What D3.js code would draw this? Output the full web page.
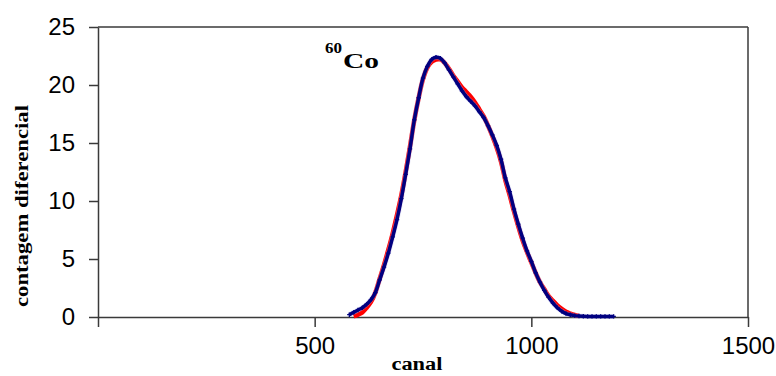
<!DOCTYPE html>
<html>
<head>
<meta charset="utf-8">
<script src="https://cdn.jsdelivr.net/npm/d3@7"></script>
<style>
  html, body { margin: 0; padding: 0; background: #fff; }
  svg { display: block; }
</style>
</head>
<body>
<svg id="chart" width="776" height="376"></svg>
<script>
// ---- data ----
const xTicks = [500, 1000, 1500];
const yTicks = [0, 5, 10, 15, 20, 25];

const blueChannels = [580,590,600,610,620,630,640,650,660,670,680,690,700,710,720,730,740,750,760,770,780,790,800,810,820,830,840,850,860,870,880,890,900,910,920,930,940,950,960,970,980,990,1000,1010,1020,1030,1040,1050,1060,1070,1080,1090,1100,1110,1120,1130,1140,1150,1160,1170,1180,1190];
const blueCounts = [0.2,0.4,0.6,0.8,1.1,1.5,2.1,3.2,4.3,5.5,6.9,8.4,10.2,12.3,14.5,17.0,18.9,20.6,21.6,22.2,22.4,22.3,21.9,21.3,20.7,20.1,19.5,19.0,18.6,18.2,17.7,17.2,16.5,15.7,14.8,13.6,12.0,10.8,9.3,8.0,6.8,5.7,4.8,3.8,3.0,2.3,1.7,1.2,0.8,0.5,0.3,0.2,0.12,0.08,0.06,0.05,0.05,0.05,0.05,0.05,0.05,0.05];

const redChannels = [590,600,610,620,630,640,650,660,670,680,690,700,710,720,730,740,750,760,770,780,790,800,810,820,830,840,850,860,870,880,890,900,910,920,930,940,950,960,970,980,990,1000,1010,1020,1030,1040,1050,1060,1070,1080,1090,1100,1110];
const redCounts = [0.05,0.2,0.4,0.8,1.3,2.1,3.3,4.5,5.8,7.2,8.8,10.5,12.5,14.7,17.0,18.9,20.5,21.5,22.0,22.2,22.2,21.9,21.4,20.8,20.3,19.8,19.4,19.0,18.5,17.9,17.3,16.5,15.6,14.6,13.4,11.8,10.5,9.1,7.8,6.6,5.6,4.7,3.8,3.0,2.4,1.8,1.4,1.0,0.7,0.45,0.3,0.18,0.1];

// ---- layout ----
const svg = d3.select("#chart");
const x = d3.scaleLinear().domain([0, 1500]).range([98, 748]);
const y = d3.scaleLinear().domain([0, 25]).range([317, 27]);
const axisColor = "#3a3a3a";

// frame: top & right
svg.append("line").attr("x1", x(0)).attr("x2", x(1500)).attr("y1", y(25)).attr("y2", y(25))
  .attr("stroke", axisColor).attr("stroke-width", 1.5);
svg.append("line").attr("x1", x(1500)).attr("x2", x(1500)).attr("y1", y(25)).attr("y2", y(0))
  .attr("stroke", axisColor).attr("stroke-width", 1.5);

// x axis
const gx = svg.append("g").attr("transform", `translate(0,${y(0)})`)
  .call(d3.axisBottom(x).tickValues([0, ...xTicks]).tickSize(10).tickSizeOuter(0).tickPadding(10)
    .tickFormat(d => d === 0 ? "" : d));
// y axis
const gy = svg.append("g").attr("transform", `translate(${x(0)},0)`)
  .call(d3.axisLeft(y).tickValues(yTicks).tickSize(9).tickSizeOuter(0).tickPadding(14));

[gx, gy].forEach(g => {
  g.select(".domain").attr("stroke", axisColor).attr("stroke-width", 1.5);
  g.selectAll(".tick line").attr("stroke", axisColor).attr("stroke-width", 1.5);
  g.selectAll(".tick text").attr("fill", "#000")
    .style("font-family", "'Liberation Sans', Arial, sans-serif").style("font-size", "24px");
});

// series
const redData = redChannels.map((c, i) => [c, redCounts[i]]);
const blueData = blueChannels.map((c, i) => [c, blueCounts[i]]);
const line = d3.line().x(d => x(d[0])).y(d => y(d[1])).curve(d3.curveCatmullRom);

svg.append("path").datum(redData).attr("d", line)
  .attr("fill", "none").attr("stroke", "#ff0000").attr("stroke-width", 4.5).attr("stroke-linejoin", "round");
svg.append("path").datum(blueData).attr("d", line)
  .attr("fill", "none").attr("stroke", "#b8b8e8").attr("stroke-width", 5).attr("stroke-opacity", 0.35);
svg.append("path").datum(blueData).attr("d", line)
  .attr("fill", "none").attr("stroke", "#000080").attr("stroke-width", 3.5).attr("stroke-linejoin", "round");
svg.append("g").selectAll("path").data(blueData).join("path")
  .attr("d", d => `M${x(d[0]) - 2.2},${y(d[1])}h4.4M${x(d[0])},${y(d[1]) - 2.2}v4.4`)
  .attr("stroke", "#000080").attr("stroke-width", 1.3);

// labels
const serif = "'Liberation Serif', 'Times New Roman', serif";
svg.append("text").attr("x", 325).attr("y", 53).text("60")
  .style("font-family", serif).style("font-weight", "bold").style("font-size", "15px")
  .attr("textLength", 17).attr("lengthAdjust", "spacingAndGlyphs");
svg.append("text").attr("x", 343).attr("y", 68).text("Co")
  .style("font-family", serif).style("font-weight", "bold").style("font-size", "22px")
  .attr("textLength", 36).attr("lengthAdjust", "spacingAndGlyphs");

svg.append("text").attr("x", 417).attr("y", 370).attr("text-anchor", "middle").text("canal")
  .style("font-family", serif).style("font-weight", "bold").style("font-size", "18px")
  .attr("textLength", 51).attr("lengthAdjust", "spacingAndGlyphs");

svg.append("text").attr("transform", "translate(28,206) rotate(-90)").attr("text-anchor", "middle")
  .text("contagem diferencial")
  .style("font-family", serif).style("font-weight", "bold").style("font-size", "18px")
  .attr("textLength", 202).attr("lengthAdjust", "spacingAndGlyphs");
</script>
</body>
</html>
